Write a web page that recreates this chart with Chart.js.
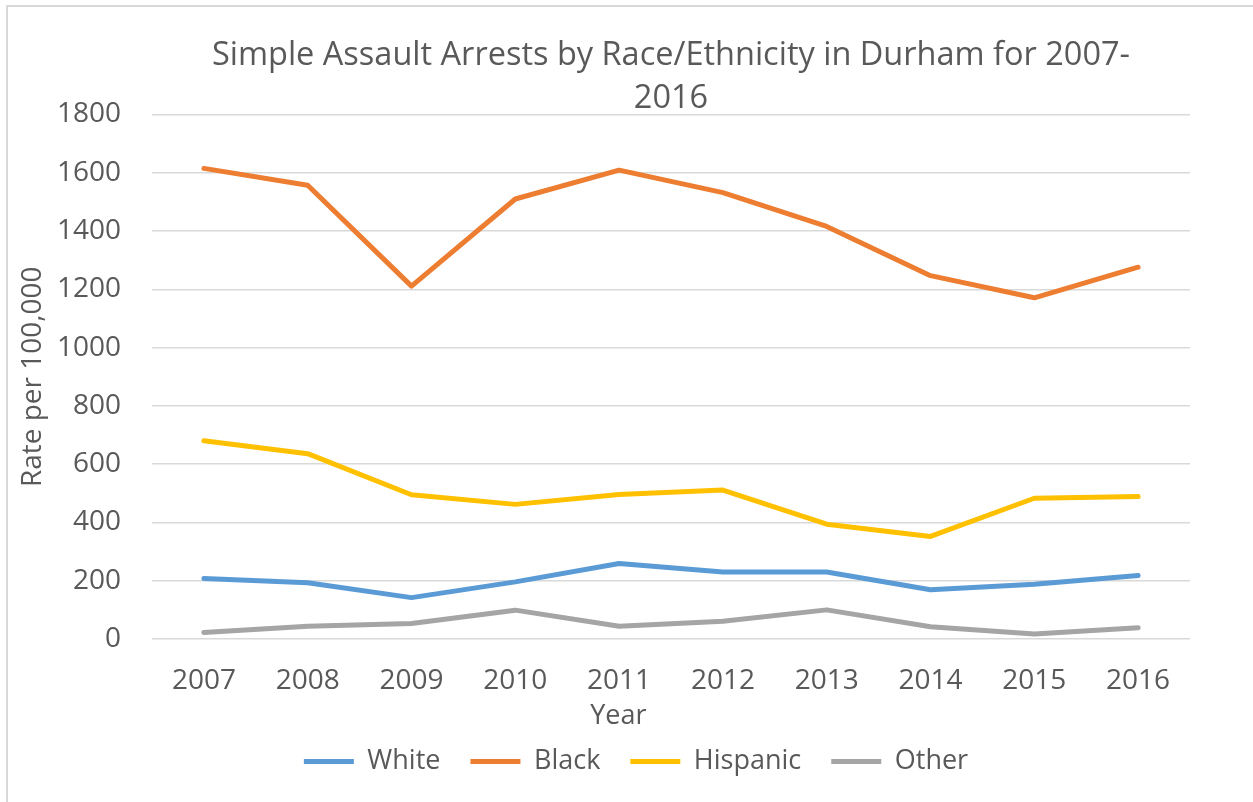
<!DOCTYPE html>
<html lang="en">
<head>
    <meta charset="UTF-8">
    <title>Simple Assault Arrests by Race/Ethnicity in Durham</title>
    <script src="https://cdn.jsdelivr.net/npm/chart.js"></script>
    <style>
        * { margin: 0; padding: 0; box-sizing: border-box; }
        body { background: #fff; width: 1253px; height: 802px; overflow: hidden; position: relative; }
        .frame { position: absolute; left: 6px; top: 5px; width: 1300px; height: 900px; border: 2px solid #d9d9d9; }
        canvas { position: absolute; left: 0; top: 0; }
    </style>
</head>
<body>
    <div class="frame"></div>
    <canvas id="chart" width="1253" height="802"></canvas>

    <script>
        const years = ["2007", "2008", "2009", "2010", "2011", "2012", "2013", "2014", "2015", "2016"];
        const white = [208, 193, 142, 196, 259, 230, 230, 169, 188, 218];
        const black = [1615, 1557, 1211, 1510, 1609, 1532, 1416, 1247, 1171, 1276];
        const hispanic = [680, 636, 495, 462, 496, 511, 394, 352, 483, 489];
        const other = [22, 44, 53, 99, 44, 61, 100, 42, 17, 39];

        const textColor = "#595959";
        const font = "'Open Sans', sans-serif";

        function line(label, data, color) {
            return {
                label: label,
                data: data,
                borderColor: color,
                backgroundColor: color,
                borderWidth: 5,
                borderCapStyle: "round",
                borderJoinStyle: "round",
                pointRadius: 0,
                tension: 0
            };
        }

        // excel puts the legend a bit left of the plot centre
        const legendShift = {
            id: "legendShift",
            afterLayout(chart) {
                chart.legend.left -= 35;
                chart.legend.right -= 35;
            }
        };

        new Chart(document.getElementById("chart"), {
            type: "line",
            data: {
                labels: years,
                datasets: [
                    line("White", white, "#5b9bd5"),
                    line("Black", black, "#ed7d31"),
                    line("Hispanic", hispanic, "#ffc000"),
                    line("Other", other, "#a5a5a5")
                ]
            },
            plugins: [legendShift],
            options: {
                responsive: false,
                animation: false,
                layout: { padding: { left: 0, right: 63, top: 0, bottom: 17 } },
                plugins: {
                    title: {
                        display: true,
                        fullSize: false,
                        text: ["Simple Assault Arrests by Race/Ethnicity in Durham for 2007-", "2016"],
                        color: textColor,
                        font: { family: font, size: 32.5, weight: "normal", lineHeight: 1.3 },
                        padding: { top: 35, bottom: -5 }
                    },
                    legend: {
                        position: "bottom",
                        fullSize: false,
                        labels: {
                            usePointStyle: true,
                            pointStyle: "line",
                            pointStyleWidth: 50,
                            padding: 30,
                            color: textColor,
                            font: { family: font, size: 27 }
                        }
                    },
                    tooltip: { enabled: false }
                },
                scales: {
                    x: {
                        offset: true,
                        grid: { display: false, drawTicks: false },
                        border: { display: false },
                        ticks: { color: textColor, font: { family: font, size: 28 }, padding: 25 },
                        title: {
                            display: true,
                            text: "Year               ",
                            color: textColor,
                            font: { family: font, size: 27 },
                            padding: { top: 3, bottom: -15 }
                        },
                        afterFit: function (scale) { scale.height = 79; }
                    },
                    y: {
                        min: 0,
                        max: 1800,
                        ticks: {
                            stepSize: 200,
                            color: textColor,
                            font: { family: font, size: 28 },
                            padding: 31,
                            callback: function (value) { return String(value); }
                        },
                        grid: { color: "#d9d9d9", lineWidth: 1.5, drawTicks: false },
                        border: { display: false },
                        title: {
                            display: true,
                            text: "Rate per 100,000",
                            color: textColor,
                            font: { family: font, size: 28 },
                            padding: { top: 16, bottom: 0 }
                        },
                        afterFit: function (scale) { scale.width = 152; }
                    }
                }
            }
        });
    </script>
</body>
</html>
